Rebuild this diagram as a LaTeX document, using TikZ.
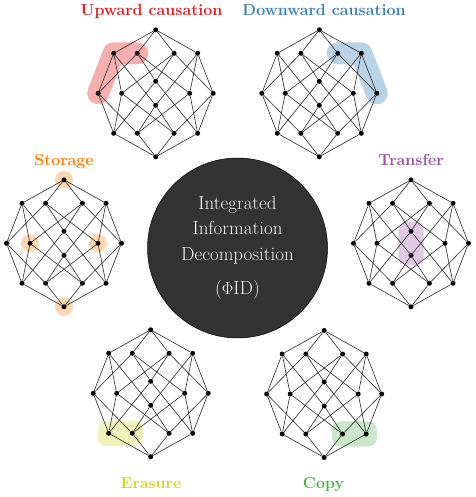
\documentclass[tikz,border=0pt]{standalone}
\usetikzlibrary{positioning, fit, backgrounds}

\definecolor{upcol}{HTML}{E41A1C}
\definecolor{downcol}{HTML}{377EB8}
\definecolor{storecol}{HTML}{FF7F00}
\definecolor{transcol}{HTML}{984EA3}
\definecolor{erasecol}{RGB}{212,212,30}
\definecolor{copycol}{HTML}{4DAF4A}
\definecolor{corecol}{RGB}{51,51,51}

% One PhiID lattice: #1 = name prefix, #2 = centre
\newcommand{\phidlattice}[2]{%
  \begin{scope}[shift={#2}]
    % 16 atoms: top, 4 upper, 6 middle, 4 lower, bottom
    \foreach \n/\x/\y in {t/0/-63.5, a1/-42/-40, a2/-18.4/-40, a3/18.4/-40, a4/42/-40,
        c1/0/-12, m1/-57.5/0, m2/-34/0, m3/34/0, m4/57.5/0, c2/0/12,
        b1/-42/40, b2/-18.4/40, b3/18.4/40, b4/42/40, o/0/63.5} {
      \node[dot] (#1-\n) at (\x,\y) {};
    }
    % Hasse edges
    \foreach \a/\b in {t/a1, t/a2, t/a3, t/a4,
        a1/m1, a1/m2, a1/c2, a2/m1, a2/c1, a2/m3,
        a3/m4, a3/m2, a3/c1, a4/m4, a4/c2, a4/m3,
        b1/m1, b1/m2, b1/c1, b2/m1, b2/c2, b2/m3,
        b3/m4, b3/m2, b3/c2, b4/m4, b4/c1, b4/m3,
        o/b1, o/b2, o/b3, o/b4} {
      \draw[hasse] (#1-\a) -- (#1-\b);
    }
  \end{scope}
}

\begin{document}
\begin{tikzpicture}[
    x=1pt, y=-1pt,
    dot/.style={circle, fill=black, inner sep=0pt, minimum size=5pt},
    hasse/.style={black!85, line width=0.6pt},
    hl/.style={line width=22pt, line cap=round, line join=round},
    hlbox/.style={rounded corners=9pt, inner sep=0pt},
    lbl/.style={anchor=base, font=\bfseries\fontsize{16}{19}\selectfont},
    core/.style={circle, fill=corecol, draw=black, line width=0.5pt,
        minimum size=180pt, inner sep=0pt, align=center,
        text=white!96!black, font=\fontsize{19}{25.5}\selectfont}
]
    \useasboundingbox (0,0) rectangle (475,497);

    % Centre
    \node[core] (phid) at (237.5,248)
        {Integrated\\Information\\Decomposition\\[9pt]($\Phi$ID)};

    % Six lattices around the centre
    \phidlattice{up}{(155.7,93.3)}
    \phidlattice{dn}{(319.3,93.3)}
    \phidlattice{st}{(64,243.3)}
    \phidlattice{tr}{(411,243.3)}
    \phidlattice{er}{(150.7,393.3)}
    \phidlattice{cp}{(324.2,394)}

    % Labels
    \node[lbl, text=upcol] (uplbl) at (151.5,16) {Upward causation};
    \node[lbl, text=downcol] (dnlbl) at (324,16) {Downward causation};
    \node[lbl, text=storecol] (stlbl) at (64,165.5) {Storage};
    \node[lbl, text=transcol] (trlbl) at (411,165.5) {Transfer};
    \node[lbl, text=erasecol] (erlbl) at (151,488.5) {Erasure};
    \node[lbl, text=copycol] (cplbl) at (323.5,488.5) {Copy};

    % Highlighted atoms
    \begin{pgfonlayer}{background}
        \draw[hl, upcol!35] (up-m1.center) -- (up-a1.center) -- (up-a2.center);
        \draw[hl, downcol!35] (dn-a3.center) -- (dn-a4.center) -- (dn-m4.center);
        \foreach \n in {t, m2, m3, o}
            \fill[storecol!30] (st-\n) circle (9pt);
        \node[hlbox, fill=transcol!30, fit=(tr-c1)(tr-c2), inner xsep=10pt, inner ysep=7pt] (trbox) {};
        \node[hlbox, fill=erasecol!30, fit=(er-b1)(er-b2), inner xsep=8pt, inner ysep=10pt] (erbox) {};
        \node[hlbox, fill=copycol!30, fit=(cp-b3)(cp-b4), inner xsep=8pt, inner ysep=10pt] (cpbox) {};
    \end{pgfonlayer}

\end{tikzpicture}
\end{document}
